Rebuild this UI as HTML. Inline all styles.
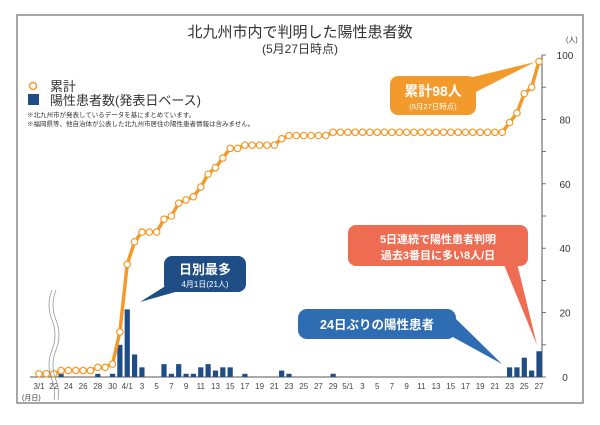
<!DOCTYPE html>
<html><head><meta charset="utf-8"><style>
body{margin:0;background:#fff;width:600px;height:420px;overflow:hidden;font-family:"Liberation Sans","Noto Sans CJK JP",sans-serif}
</style></head><body>
<svg width="600" height="420" xmlns="http://www.w3.org/2000/svg" font-family="Liberation Sans, Noto Sans CJK JP, sans-serif">
<rect x="17" y="15" width="566" height="388" fill="#fff" stroke="#888" stroke-width="1.5"/>
<text x="300" y="37" text-anchor="middle" font-size="15" fill="#333">北九州市内で判明した陽性患者数</text>
<text x="300" y="53" text-anchor="middle" font-size="12" fill="#333">(5月27日時点)</text>
<g>
<circle cx="33" cy="86" r="3.5" fill="#fff" stroke="#f39a2c" stroke-width="1.5"/>
<text x="50" y="91" font-size="13" fill="#333">累計</text>
<rect x="28" y="94" width="11" height="11" fill="#1f4e87"/>
<text x="50" y="105" font-size="13" fill="#333">陽性患者数(発表日ベース)</text>
<text x="27" y="117" font-size="6.5" fill="#333">※北九州市が発表しているデータを基にまとめています。</text>
<text x="27" y="126" font-size="6.5" fill="#333">※福岡県等、他自治体が公表した北九州市居住の陽性患者情報は含みません。</text>
</g>
<g id="axes"></g>
<g id="bars"></g>
<g id="line"></g>
<text x="566" y="42" font-size="7" fill="#333">(人)</text>
<text x="22" y="400" font-size="7" fill="#333">(月日)</text>
<g fill="none" stroke="#999" stroke-width="0.8">
<path d="M52 290 q-6 15 0 30 q6 15 0 30 q-6 15 0 30 q4 10 2 20"/>
<path d="M56 290 q-6 15 0 30 q6 15 0 30 q-6 15 0 30 q4 10 2 20"/>
</g>
<g>
<path d="M440 85 L535 62 L460 100 Z" fill="#f39a2c"/>
<rect x="390" y="76" width="86" height="39" rx="8" fill="#f39a2c"/>
<text x="433" y="96" text-anchor="middle" font-size="14" font-weight="bold" fill="#fff">累計98人</text>
<text x="433" y="109" text-anchor="middle" font-size="7.5" fill="#fff">(5月27日時点)</text>
</g>
<g>
<path d="M175 280 L140 302 L200 285 Z" fill="#1f4e87"/>
<rect x="164" y="256" width="82" height="36" rx="8" fill="#1f4e87"/>
<text x="205" y="274" text-anchor="middle" font-size="13" font-weight="bold" fill="#fff">日別最多</text>
<text x="205" y="287" text-anchor="middle" font-size="8" fill="#fff">4月1日(21人)</text>
</g>
<g>
<path d="M500 255 L537 345 L515 255 Z" fill="#ee6c52"/>
<rect x="348" y="225" width="180" height="41" rx="8" fill="#ee6c52"/>
<text x="438" y="243" text-anchor="middle" font-size="11" font-weight="bold" fill="#fff">5日連続で陽性患者判明</text>
<text x="438" y="259" text-anchor="middle" font-size="11" font-weight="bold" fill="#fff">過去3番目に多い8人/日</text>
</g>
<g>
<path d="M440 330 L502 364 L455 318 Z" fill="#2f6db3"/>
<rect x="298" y="309" width="158" height="30" rx="9" fill="#2f6db3"/>
<text x="377" y="329" text-anchor="middle" font-size="12.5" font-weight="bold" fill="#fff">24日ぶりの陽性患者</text>
</g>
</svg>
<script>
// categories: index 0 = 3/1, 1 = 3/21, then 3/22 ... 5/27
const categories = (function(){const a=['3/1','3/21'];for(let d=22;d<=31;d++)a.push('3/'+d);for(let d=1;d<=30;d++)a.push('4/'+d);for(let d=1;d<=27;d++)a.push('5/'+d);return a;})();
const dailyDates = ['3/1','3/23','3/28','3/30','3/31','4/1','4/2','4/3','4/6','4/7','4/8','4/9','4/10','4/11','4/12','4/13','4/14','4/15','4/17','4/22','4/23','4/29','5/23','5/24','5/25','5/26','5/27'];
const dailyValues = [1,1,1,1,10,21,7,3,4,1,4,1,1,3,4,2,3,3,1,2,1,1,3,3,6,2,8];
const yTicks = [0,20,40,60,80,100];
const xTickLabels = ['3/1','22','24','26','28','30','4/1','3','5','7','9','11','13','15','17','19','21','23','25','27','29','5/1','3','5','7','9','11','13','15','17','19','21','23','25','27'];
const xTickDates = ['3/1','3/22','3/24','3/26','3/28','3/30','4/1','4/3','4/5','4/7','4/9','4/11','4/13','4/15','4/17','4/19','4/21','4/23','4/25','4/27','4/29','5/1','5/3','5/5','5/7','5/9','5/11','5/13','5/15','5/17','5/19','5/21','5/23','5/25','5/27'];

const NS='http://www.w3.org/2000/svg';
const x0=39, step=(539-39)/(categories.length-1), y0=377, yScale=3.22;
const xPos=i=>x0+i*step;
const yPos=v=>y0-v*yScale;
function mk(tag,attrs,parent){const e=document.createElementNS(NS,tag);for(const k in attrs)e.setAttribute(k,attrs[k]);parent.appendChild(e);return e;}
const axes=document.getElementById('axes'),bars=document.getElementById('bars'),line=document.getElementById('line');
const xl=mk('line',{x1:30,x2:543,y1:y0,y2:y0,stroke:'#555','stroke-width':1},axes);


xTickLabels.forEach((t,k)=>{const i=categories.indexOf(xTickDates[k]);
 const tx=mk('text',{x:xPos(i),y:y0+12,'text-anchor':'middle','font-size':8,fill:'#444'},axes);tx.textContent=t;
 
 });
const yl=mk('line',{x1:542,x2:542,y1:yPos(100),y2:y0,stroke:'#555','stroke-width':1},axes);


for(let v=0;v<=100;v+=10){mk('line',{x1:542,x2:546,y1:yPos(v),y2:yPos(v),stroke:'#555','stroke-width':0.8},axes);}
yTicks.forEach(v=>{const t=mk('text',{x:565,y:yPos(v)+4,'text-anchor':'middle','font-size':10,fill:'#333'},axes);t.textContent=v;
 
 });
const daily=new Array(categories.length).fill(0);
dailyDates.forEach((d,k)=>{daily[categories.indexOf(d)]=dailyValues[k];});
daily.forEach((v,i)=>{if(!v)return;const b=mk('rect',{x:xPos(i)-2.6,y:yPos(v),width:5.2,height:v*yScale,fill:'#1f4e87'},bars);
 
 });
let s=0;const cum=daily.map(v=>s+=v);
const pl=mk('polyline',{points:cum.map((v,i)=>xPos(i)+','+yPos(v)).join(' '),fill:'none',stroke:'#f39a2c','stroke-width':3.5,'stroke-linejoin':'round'},line);


cum.forEach((v,i)=>{const c=mk('circle',{cx:xPos(i),cy:yPos(v),r:3.2,fill:'#fff',stroke:'#f39a2c','stroke-width':1.2},line);
 
 });
</script>
</body></html>
